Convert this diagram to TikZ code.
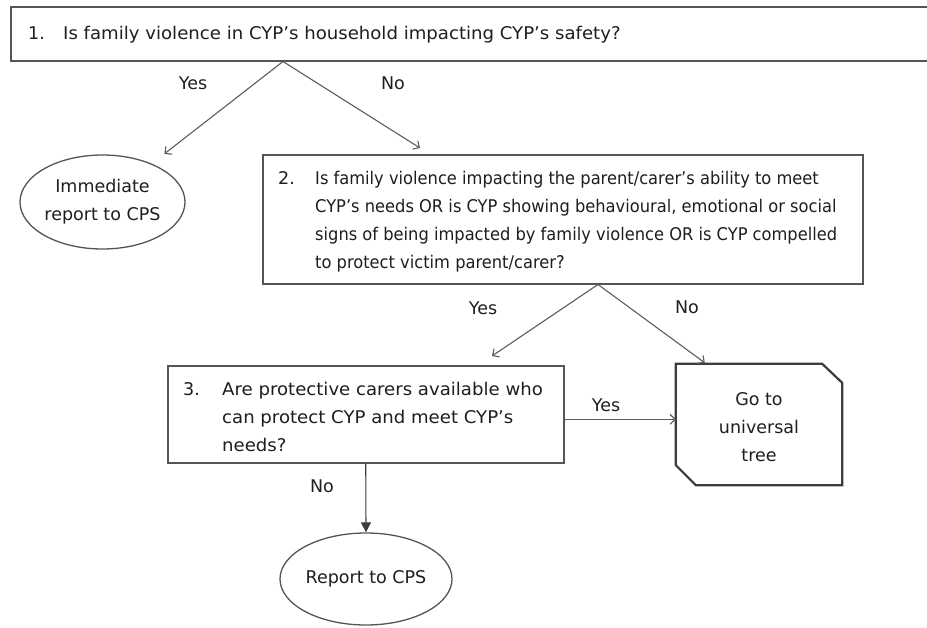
\documentclass[tikz,border=0pt]{standalone}
\usepackage{fontspec}
\setmainfont{DejaVu Sans}
\newfontfamily\narrowsans[FakeStretch=0.93,Ligatures=TeX]{DejaVu Sans}
\newfontfamily\widesans[FakeStretch=1.035,Ligatures=TeX]{DejaVu Sans}
\usetikzlibrary{arrows.meta,shapes.geometric}
\definecolor{linegray}{HTML}{5C5C5C}
\definecolor{boxgray}{HTML}{555555}
\definecolor{darkedge}{HTML}{3C3C3C}
\definecolor{inkcol}{HTML}{1E1E1E}
\begin{document}
\begin{tikzpicture}[x=1pt,y=-1pt,
  font=\fontsize{17.5}{28}\selectfont,
  every node/.style={text=inkcol},
  qbox/.style={draw=boxgray, line width=1.5pt, rectangle, inner sep=0pt, anchor=north west},
  qtext/.style={anchor=base west, inner sep=0pt, align=left},
  oval/.style={draw=boxgray, line width=1.3pt, ellipse, inner sep=0pt, align=center},
  lbl/.style={inner sep=1pt},
  arr/.style={draw=linegray, line width=1.1pt, -{Straight Barb[length=5pt,width=10pt]}},
  darr/.style={draw=darkedge, line width=1.1pt, -{Triangle[length=10pt,width=10pt]}},
]
\clip (0,0) rectangle (927,627);
\fill[white] (0,0) rectangle (927,627);

% question 1 (box runs past the right edge)
\node[qbox, minimum width=940pt, minimum height=54pt] (q1) at (10,6) {};
\node[qtext] (q1n) at (28,39) {1.};
\node[qtext, font=\widesans\fontsize{17.5}{28}\selectfont] (q1t) at (63,39) {Is family violence in CYP’s household impacting CYP’s safety?};

% question 2 (multi-line blocks are placed by the baseline of their last line)
\node[qbox, minimum width=600pt, minimum height=129pt] (q2) at (262,154) {};
\node[qtext] (q2n) at (278,184) {2.};
\node[qtext, font=\narrowsans\fontsize{17.5}{28}\selectfont] (q2t) at (315,268) {Is family violence impacting the parent/carer’s ability to meet\\
CYP’s needs OR is CYP showing behavioural, emotional or social\\
signs of being impacted by family violence OR is CYP compelled\\
to protect victim parent/carer?};

% question 3
\node[qbox, minimum width=396pt, minimum height=97pt] (q3) at (167,365) {};
\node[qtext] (q3n) at (183,395) {3.};
\node[qtext, font=\widesans\fontsize{17.5}{28}\selectfont] (q3t) at (222,451) {Are protective carers available who\\
can protect CYP and meet CYP’s\\
needs?};

% outcomes
\node[oval, minimum width=165pt, minimum height=94pt] (imm) at (102.5,202) {Immediate\\report to CPS};
\node[oval, minimum width=172pt, minimum height=92pt] (rep) at (366,579) {Report to CPS};
\node[rectangle, inner sep=0pt, minimum width=166pt, minimum height=121pt] (go) at (759,424.5) {};
\node[align=center, inner sep=0pt] (gotext) at (759,427.5) {Go to\\universal\\tree};
\draw[darkedge, line width=2.2pt, line join=miter]
  (go.north west) -- ([xshift=-20pt]go.north east) -- ([yshift=-19pt]go.north east)
  -- (go.south east) -- ([xshift=20pt]go.south west) -- ([yshift=20pt]go.south west) -- cycle;

% branch points
\coordinate (a1) at ([xshift=273pt]q1.south west);
\coordinate (a2) at ([xshift=336pt]q2.south west);

% connectors
\draw[arr, shorten >=16pt] (a1) -- (imm);
\draw[arr] (a1) -- ([xshift=158pt,yshift=6pt]q2.north west);
\draw[arr] (a2) -- ([xshift=325pt,yshift=9pt]q3.north west);
\draw[arr] (a2) -- ([xshift=29pt,yshift=1pt]go.north west);
\draw[arr] ([yshift=-5pt]q3.east) -- ([yshift=-5pt]q3.east -| go.west);
\draw[darr] (q3.south) -- (rep.north);

% branch labels
\node[lbl] (y1) at (193,83) {Yes};
\node[lbl] (n1) at (393,83) {No};
\node[lbl] (y2) at (483,308) {Yes};
\node[lbl] (n2) at (687,307) {No};
\node[lbl] (y3) at (606,405) {Yes};
\node[lbl] (n3) at (322,486) {No};
\end{tikzpicture}
\end{document}
